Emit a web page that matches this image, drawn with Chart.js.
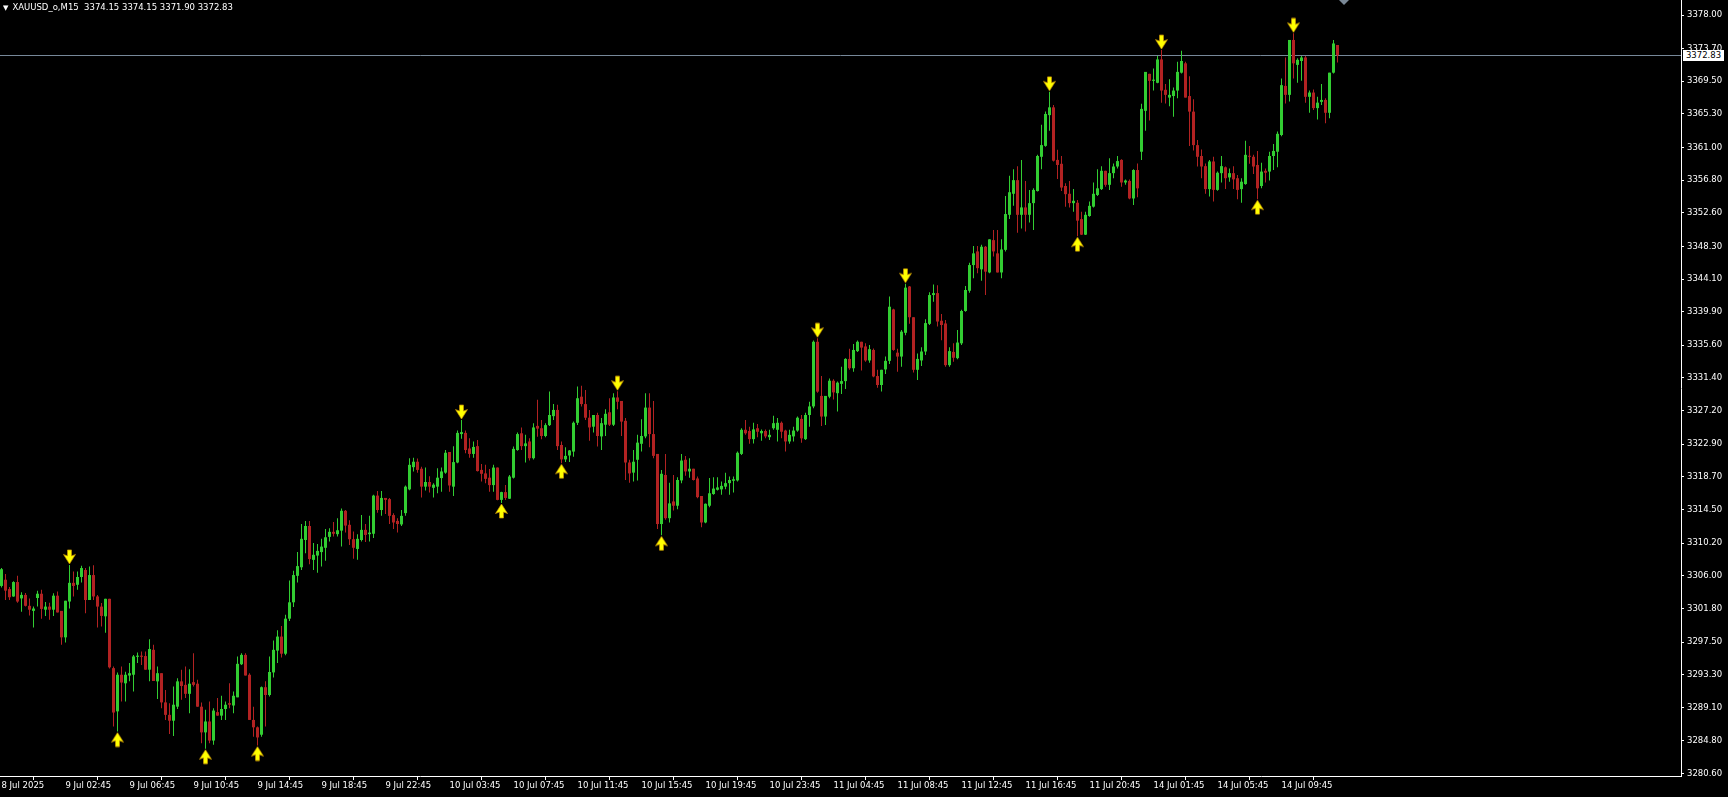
<!DOCTYPE html>
<html>
<head>
<meta charset="utf-8">
<title>XAUUSD_o,M15</title>
<script src="https://cdn.jsdelivr.net/npm/chart.js@4.4.1/dist/chart.umd.min.js"></script>
<style>
  html, body { margin: 0; padding: 0; background: #000; overflow: hidden; }
  #wrap { position: relative; width: 1728px; height: 797px; }
  #header {
    position: absolute; left: 3px; top: 1px; color: #fff; white-space: pre;
    font: 8.5px 'DejaVu Sans', sans-serif; line-height: 12px;
  }
  #header span { font-size: 7px; margin-right: 4px; }
  #priceTag {
    position: absolute; left: 1683px; width: 41px; height: 11px; background: #fff; color: #000;
    font: 8.5px 'DejaVu Sans', sans-serif; line-height: 11px; text-align: center;
  }
</style>
</head>
<body>
<div id="wrap">
  <canvas id="myChart" width="1728" height="797"></canvas>
  <div id="header"><span>▼</span>XAUUSD_o,M15  3374.15 3374.15 3371.90 3372.83</div>
  <div id="priceTag">3372.83</div>
</div>
<script>
const open = [
  3304.7, 3305.5, 3304.3, 3303.35, 3305.2, 3303.1, 3303.55, 3302.15, 3301.5, 3303.15,
  3303.7, 3301.65, 3302.05, 3301.65, 3303.45, 3301.5, 3298.1, 3302.7, 3305.1, 3304.85,
  3305.85, 3306.75, 3302.9, 3306.1, 3303.35, 3302.05, 3300.8, 3303.05, 3294.15, 3288.6,
  3293.3, 3292.2, 3293.2, 3293.3, 3295.6, 3295.75, 3295.7, 3293.95, 3296.5, 3292.45,
  3293.5, 3289.75, 3288.15, 3287.4, 3289.2, 3292.45, 3292.0, 3290.85, 3292.35, 3292.15,
  3289.2, 3285.9, 3287.3, 3284.85, 3288.5, 3288.05, 3288.9, 3289.65, 3289.35, 3290.4,
  3294.65, 3295.85, 3293.3, 3287.5, 3286.55, 3285.6, 3291.7, 3290.7, 3293.6, 3296.4,
  3298.2, 3296.0, 3300.5, 3302.6, 3306.0, 3307.1, 3310.6, 3312.4, 3308.05, 3308.6,
  3309.05, 3309.6, 3311.0, 3311.65, 3311.35, 3311.8, 3314.35, 3312.55, 3310.7, 3309.45,
  3310.6, 3311.9, 3311.35, 3311.4, 3316.3, 3314.45, 3316.0, 3315.85, 3313.8, 3313.05,
  3312.6, 3314.05, 3317.1, 3319.95, 3320.65, 3319.75, 3317.45, 3318.05, 3317.3, 3317.45,
  3318.55, 3319.25, 3321.9, 3317.45, 3320.55, 3324.2, 3324.35, 3322.35, 3321.65, 3322.65,
  3319.6, 3319.15, 3318.6, 3317.65, 3319.9, 3315.75, 3316.75, 3315.9, 3318.6, 3322.15,
  3324.3, 3322.65, 3323.25, 3321.1, 3325.25, 3324.95, 3323.95, 3325.35, 3326.5, 3327.3,
  3322.8, 3320.95, 3321.45, 3321.95, 3325.65, 3329.0, 3328.05, 3326.3, 3325.15, 3326.65,
  3323.9, 3325.4, 3327.0, 3325.4, 3328.9, 3328.45, 3325.9, 3320.55, 3319.25, 3320.9,
  3322.95, 3323.9, 3327.6, 3324.2, 3321.65, 3312.65, 3318.95, 3313.4, 3315.55, 3315.0,
  3318.25, 3320.9, 3319.4, 3319.75, 3318.5, 3316.25, 3312.85, 3315.0, 3316.5, 3317.05,
  3317.1, 3317.45, 3317.9, 3318.2, 3318.25, 3321.65, 3324.75, 3324.6, 3323.55, 3324.95,
  3324.3, 3324.6, 3323.8, 3324.95, 3324.75, 3325.65, 3324.65, 3323.25, 3323.9, 3324.65,
  3326.15, 3323.55, 3326.65, 3327.75, 3336.05, 3329.1, 3326.45, 3329.0, 3331.05, 3329.45,
  3330.65, 3331.0, 3333.85, 3332.65, 3334.85, 3336.05, 3335.45, 3333.65, 3335.0, 3331.65,
  3330.5, 3332.5, 3333.6, 3340.2, 3334.65, 3334.15, 3337.2, 3343.15, 3339.2, 3332.45,
  3333.65, 3334.8, 3338.35, 3342.05, 3342.3, 3338.75, 3338.4, 3333.05, 3334.75, 3333.95,
  3335.85, 3340.0, 3342.6, 3345.9, 3347.65, 3345.35, 3348.25, 3344.95, 3349.1, 3347.4,
  3344.95, 3347.85, 3352.35, 3355.05, 3356.8, 3352.35, 3353.3, 3352.35, 3353.85, 3355.4,
  3359.8, 3361.2, 3365.15, 3366.15, 3359.4, 3358.9, 3356.05, 3355.05, 3353.85, 3353.9,
  3351.8, 3349.8, 3352.2, 3353.4, 3354.9, 3355.65, 3358.0, 3356.2, 3357.7, 3358.55,
  3359.4, 3356.5, 3356.7, 3354.45, 3358.1, 3360.45, 3365.7, 3370.45, 3369.55, 3369.3,
  3372.3, 3368.4, 3367.4, 3367.6, 3368.3, 3370.6, 3371.8, 3367.6, 3365.6, 3361.3,
  3359.9, 3358.6, 3355.65, 3359.2, 3355.55, 3357.7, 3358.45, 3357.15, 3357.7, 3357.05,
  3355.65, 3356.3, 3359.9, 3359.8, 3358.75, 3356.05, 3358.0, 3357.9, 3359.9, 3360.45,
  3362.6, 3368.9, 3367.75, 3374.8, 3371.6, 3372.1, 3372.55, 3367.5, 3368.05, 3366.05,
  3366.85, 3367.1, 3365.45, 3370.6, 3374.15
];
const high = [
  3307.0, 3306.25, 3304.55, 3305.3, 3306.0, 3303.9, 3303.8, 3303.1, 3302.05, 3304.1,
  3304.2, 3302.65, 3302.55, 3303.75, 3304.0, 3301.5, 3302.8, 3307.4, 3306.55, 3306.55,
  3307.3, 3307.0, 3307.2, 3307.35, 3303.55, 3302.5, 3303.05, 3303.05, 3294.35, 3293.6,
  3294.35, 3293.7, 3294.8, 3295.85, 3296.15, 3296.3, 3296.3, 3297.85, 3297.15, 3294.35,
  3293.5, 3291.35, 3289.65, 3291.8, 3292.85, 3293.95, 3294.35, 3294.0, 3296.05, 3292.65,
  3289.75, 3288.8, 3289.85, 3289.0, 3290.3, 3290.6, 3289.85, 3292.2, 3291.15, 3295.65,
  3296.05, 3296.05, 3293.5, 3289.2, 3286.65, 3291.8, 3292.45, 3295.65, 3297.7, 3299.0,
  3299.55, 3301.0, 3305.4, 3306.65, 3309.05, 3312.65, 3313.05, 3313.05, 3310.2, 3310.1,
  3310.75, 3312.0, 3312.1, 3312.9, 3313.4, 3314.65, 3314.45, 3313.15, 3311.7, 3311.35,
  3313.8, 3312.65, 3313.7, 3316.4, 3316.9, 3316.9, 3316.0, 3316.0, 3314.05, 3313.4,
  3314.45, 3317.6, 3321.1, 3321.15, 3321.05, 3320.0, 3319.9, 3318.8, 3317.9, 3319.8,
  3319.9, 3322.15, 3321.9, 3322.65, 3324.65, 3326.0, 3324.65, 3323.65, 3323.25, 3323.45,
  3320.35, 3320.25, 3319.7, 3320.25, 3319.9, 3316.8, 3317.65, 3318.95, 3322.6, 3324.4,
  3325.05, 3324.1, 3323.65, 3325.6, 3328.6, 3326.0, 3325.6, 3329.65, 3328.05, 3327.95,
  3323.25, 3322.5, 3322.15, 3325.8, 3330.3, 3330.4, 3329.85, 3327.3, 3326.65, 3326.95,
  3326.25, 3327.4, 3328.8, 3329.45, 3329.7, 3328.45, 3326.25, 3320.9, 3322.15, 3324.1,
  3326.1, 3329.45, 3329.45, 3328.45, 3321.65, 3319.6, 3321.65, 3317.95, 3318.95, 3318.65,
  3321.65, 3321.4, 3321.1, 3319.75, 3318.75, 3316.25, 3315.3, 3318.55, 3318.65, 3318.65,
  3318.1, 3319.25, 3318.75, 3318.75, 3321.95, 3324.95, 3326.0, 3325.15, 3325.65, 3325.5,
  3324.8, 3324.8, 3324.75, 3326.55, 3326.25, 3325.8, 3324.75, 3324.75, 3325.15, 3326.45,
  3326.65, 3326.95, 3328.35, 3336.2, 3336.5, 3331.65, 3329.1, 3331.35, 3331.25, 3330.95,
  3332.85, 3333.95, 3335.15, 3335.75, 3336.2, 3336.05, 3335.85, 3335.65, 3335.2, 3332.45,
  3332.45, 3334.15, 3341.85, 3340.3, 3335.15, 3337.55, 3343.5, 3343.2, 3339.2, 3334.55,
  3335.35, 3338.95, 3342.4, 3343.4, 3343.3, 3339.6, 3338.85, 3335.35, 3335.85, 3337.55,
  3340.15, 3343.2, 3346.2, 3348.35, 3348.35, 3348.5, 3348.35, 3349.2, 3350.4, 3350.4,
  3349.2, 3354.75, 3357.35, 3358.2, 3358.6, 3359.4, 3356.7, 3355.55, 3355.75, 3360.05,
  3363.9, 3365.6, 3368.15, 3366.45, 3360.7, 3359.9, 3356.4, 3356.7, 3355.65, 3354.25,
  3352.75, 3352.75, 3354.05, 3356.5, 3358.2, 3358.6, 3358.0, 3359.6, 3358.95, 3359.9,
  3359.5, 3356.9, 3356.9, 3358.2, 3358.95, 3366.6, 3370.7, 3370.45, 3371.15, 3372.75,
  3373.5, 3369.15, 3369.75, 3368.7, 3372.0, 3373.4, 3372.0, 3370.15, 3367.2, 3361.95,
  3360.75, 3358.95, 3359.4, 3359.8, 3357.9, 3359.9, 3358.55, 3358.3, 3358.6, 3357.45,
  3357.05, 3361.85, 3361.2, 3360.05, 3360.55, 3359.05, 3358.3, 3360.45, 3361.45, 3363.05,
  3369.85, 3372.55, 3374.8, 3375.65, 3372.45, 3372.75, 3372.75, 3368.3, 3368.45, 3367.5,
  3369.15, 3367.3, 3370.6, 3374.8, 3374.15
];
const low = [
  3304.5, 3302.9, 3302.9, 3303.3, 3302.55, 3301.4, 3302.05, 3300.9, 3299.35, 3302.05,
  3300.5, 3300.85, 3300.35, 3300.85, 3301.3, 3297.15, 3297.45, 3301.8, 3303.35, 3304.2,
  3305.15, 3301.2, 3302.9, 3302.9, 3299.35, 3299.5, 3298.7, 3294.1, 3286.65, 3286.0,
  3289.85, 3289.85, 3292.45, 3291.15, 3294.8, 3294.55, 3293.95, 3292.45, 3292.5, 3290.2,
  3289.0, 3287.5, 3285.7, 3285.45, 3288.9, 3290.1, 3290.3, 3288.35, 3291.8, 3289.2,
  3284.5, 3283.8, 3284.5, 3284.3, 3288.05, 3287.5, 3287.5, 3289.0, 3288.35, 3290.4,
  3294.55, 3293.2, 3287.5, 3285.35, 3284.2, 3285.35, 3286.65, 3290.5, 3292.95, 3294.8,
  3295.5, 3295.8, 3300.2, 3302.0, 3305.15, 3306.75, 3308.9, 3307.5, 3306.75, 3306.4,
  3307.2, 3307.95, 3310.4, 3311.05, 3311.05, 3309.75, 3311.55, 3309.95, 3308.2, 3308.05,
  3310.4, 3310.35, 3310.4, 3310.85, 3314.1, 3313.7, 3313.95, 3312.65, 3312.0, 3311.55,
  3312.4, 3313.7, 3317.0, 3319.4, 3319.25, 3316.05, 3316.95, 3316.7, 3316.05, 3316.6,
  3316.8, 3319.1, 3316.8, 3316.25, 3320.45, 3323.6, 3321.75, 3321.15, 3321.15, 3319.4,
  3318.1, 3317.9, 3316.8, 3316.8, 3315.7, 3315.35, 3315.75, 3315.85, 3318.5, 3322.05,
  3322.15, 3320.55, 3320.8, 3320.95, 3323.85, 3323.55, 3323.8, 3325.25, 3326.0, 3322.15,
  3320.45, 3320.6, 3320.6, 3321.3, 3325.35, 3327.75, 3326.0, 3323.35, 3324.4, 3322.6,
  3322.15, 3323.95, 3325.25, 3325.25, 3327.4, 3323.95, 3318.3, 3317.95, 3318.1, 3318.25,
  3321.95, 3323.65, 3322.5, 3321.1, 3312.0, 3311.2, 3313.2, 3312.85, 3314.4, 3314.55,
  3317.9, 3318.85, 3318.6, 3318.25, 3315.95, 3312.25, 3312.75, 3314.8, 3316.4, 3316.95,
  3316.4, 3317.1, 3316.4, 3316.7, 3318.1, 3321.5, 3324.1, 3322.95, 3323.0, 3323.8,
  3323.35, 3323.65, 3323.45, 3324.75, 3323.25, 3323.65, 3321.95, 3322.95, 3323.25, 3324.5,
  3323.1, 3323.45, 3325.15, 3327.5, 3329.5, 3325.25, 3325.35, 3328.8, 3328.65, 3327.1,
  3329.35, 3330.0, 3332.45, 3332.2, 3334.75, 3332.35, 3333.5, 3333.35, 3331.5, 3330.15,
  3329.65, 3331.9, 3333.2, 3334.9, 3332.2, 3332.85, 3336.9, 3338.35, 3332.1, 3331.15,
  3332.95, 3334.35, 3338.2, 3341.2, 3338.0, 3336.25, 3332.85, 3332.85, 3333.5, 3333.8,
  3335.65, 3339.9, 3342.35, 3344.2, 3344.85, 3343.9, 3342.05, 3344.85, 3347.0, 3344.95,
  3344.2, 3347.65, 3351.8, 3353.5, 3350.05, 3350.6, 3350.2, 3351.35, 3350.4, 3355.35,
  3358.2, 3361.1, 3363.15, 3359.2, 3356.95, 3355.4, 3353.4, 3353.3, 3352.75, 3349.6,
  3349.75, 3349.75, 3352.1, 3353.3, 3354.75, 3355.55, 3355.95, 3355.55, 3357.05, 3358.3,
  3355.95, 3356.2, 3354.35, 3353.6, 3354.6, 3359.4, 3363.15, 3364.45, 3368.3, 3369.25,
  3366.75, 3366.65, 3366.3, 3364.95, 3367.3, 3370.5, 3367.4, 3361.2, 3360.6, 3358.55,
  3357.05, 3355.05, 3354.7, 3354.05, 3355.45, 3356.5, 3355.65, 3356.6, 3355.65, 3354.35,
  3353.9, 3356.2, 3358.9, 3357.6, 3354.35, 3355.75, 3356.5, 3356.75, 3358.1, 3358.45,
  3362.45, 3366.65, 3366.9, 3369.85, 3369.3, 3369.55, 3366.75, 3365.45, 3365.8, 3364.6,
  3366.45, 3364.1, 3364.75, 3370.5, 3371.9
];
const close = [
  3306.85, 3304.1, 3303.25, 3305.2, 3302.7, 3303.55, 3302.15, 3301.65, 3301.8, 3303.7,
  3301.75, 3302.05, 3301.65, 3303.45, 3301.3, 3298.1, 3302.8, 3305.1, 3304.7, 3305.85,
  3307.0, 3302.9, 3306.1, 3303.35, 3302.05, 3300.85, 3303.05, 3294.25, 3288.45, 3293.3,
  3292.3, 3293.3, 3293.5, 3295.65, 3295.75, 3295.6, 3293.95, 3296.6, 3292.5, 3293.5,
  3289.75, 3288.15, 3287.4, 3289.45, 3292.45, 3291.85, 3290.85, 3292.15, 3292.0, 3289.2,
  3285.9, 3287.3, 3284.85, 3288.7, 3288.05, 3288.9, 3289.45, 3289.45, 3290.6, 3294.7,
  3295.85, 3293.2, 3287.5, 3286.55, 3285.25, 3291.7, 3290.7, 3293.65, 3296.5, 3298.2,
  3296.0, 3300.5, 3302.6, 3306.1, 3307.25, 3310.75, 3312.4, 3308.15, 3308.7, 3309.2,
  3309.75, 3310.95, 3311.65, 3311.4, 3311.85, 3314.35, 3312.45, 3310.7, 3309.6, 3310.75,
  3311.9, 3311.25, 3311.55, 3316.3, 3314.45, 3316.0, 3315.75, 3313.7, 3312.85, 3312.65,
  3313.7, 3317.45, 3320.25, 3320.65, 3319.6, 3317.45, 3318.05, 3317.45, 3317.7, 3318.6,
  3319.4, 3321.8, 3317.6, 3320.6, 3324.35, 3324.45, 3322.15, 3321.65, 3322.55, 3319.45,
  3319.1, 3318.45, 3317.65, 3319.9, 3315.75, 3316.75, 3316.0, 3318.75, 3322.3, 3324.2,
  3322.65, 3323.0, 3321.1, 3325.05, 3324.9, 3323.95, 3325.35, 3326.65, 3327.3, 3322.65,
  3320.95, 3321.4, 3322.1, 3325.65, 3328.8, 3328.05, 3326.3, 3325.05, 3326.65, 3323.95,
  3325.6, 3326.8, 3325.4, 3328.9, 3328.35, 3325.8, 3320.55, 3319.15, 3320.65, 3323.1,
  3323.95, 3327.6, 3324.2, 3321.4, 3312.65, 3319.1, 3313.4, 3315.3, 3315.0, 3318.3,
  3320.8, 3319.4, 3319.75, 3318.3, 3316.1, 3312.85, 3315.25, 3316.6, 3317.2, 3317.35,
  3317.55, 3317.9, 3318.3, 3318.4, 3321.8, 3324.75, 3324.3, 3323.55, 3324.8, 3324.5,
  3324.6, 3323.9, 3324.1, 3325.6, 3325.65, 3324.5, 3323.25, 3324.1, 3324.65, 3326.3,
  3323.65, 3326.65, 3327.75, 3336.05, 3329.65, 3326.45, 3329.1, 3331.05, 3329.55, 3330.8,
  3331.0, 3333.85, 3332.65, 3335.0, 3336.05, 3335.3, 3333.65, 3335.1, 3331.6, 3330.5,
  3332.45, 3333.6, 3340.55, 3335.0, 3334.15, 3337.35, 3343.0, 3339.2, 3332.45, 3333.85,
  3334.8, 3338.45, 3342.05, 3342.3, 3338.65, 3338.2, 3333.05, 3334.85, 3334.0, 3335.95,
  3340.0, 3342.7, 3345.9, 3347.4, 3345.5, 3348.25, 3345.05, 3349.2, 3347.65, 3344.95,
  3347.9, 3352.45, 3355.25, 3356.8, 3352.35, 3353.3, 3352.35, 3353.85, 3355.55, 3359.9,
  3361.3, 3365.3, 3366.15, 3359.3, 3358.75, 3355.85, 3355.0, 3353.85, 3354.15, 3351.6,
  3349.8, 3352.35, 3353.5, 3355.05, 3355.75, 3358.0, 3356.2, 3357.7, 3358.55, 3359.25,
  3356.5, 3356.75, 3354.45, 3358.1, 3355.75, 3365.95, 3370.7, 3369.55, 3369.7, 3372.3,
  3368.3, 3367.75, 3367.75, 3368.3, 3370.7, 3372.1, 3367.4, 3365.6, 3361.3, 3359.8,
  3358.55, 3355.65, 3359.2, 3355.55, 3357.75, 3358.6, 3357.05, 3357.7, 3356.9, 3355.55,
  3356.6, 3360.05, 3359.8, 3358.55, 3355.75, 3357.9, 3357.75, 3359.9, 3360.55, 3362.75,
  3369.0, 3367.75, 3374.8, 3371.8, 3372.25, 3372.55, 3367.5, 3368.05, 3366.05, 3366.75,
  3367.1, 3365.45, 3370.6, 3374.35, 3372.83
];

// fractal arrows: bar index + price of the high/low they mark
const upFractalIdx = [29, 51, 64, 125, 140, 165, 269, 314];
const upFractalPrice = [3286.0, 3283.8, 3284.2, 3315.35, 3320.45, 3311.2, 3349.6, 3354.35];
const downFractalIdx = [17, 115, 154, 204, 226, 262, 290, 323];
const downFractalPrice = [3307.4, 3326.0, 3329.7, 3336.5, 3343.5, 3368.15, 3373.5, 3375.65];

const xTickIdx = [0, 16, 32, 48, 64, 80, 96, 112, 128, 144, 160, 176, 192, 208, 224, 240, 256, 272, 288, 304, 320];
const xTickLabels = [
  '8 Jul 2025', '9 Jul 02:45', '9 Jul 06:45', '9 Jul 10:45', '9 Jul 14:45', '9 Jul 18:45',
  '9 Jul 22:45', '10 Jul 03:45', '10 Jul 07:45', '10 Jul 11:45', '10 Jul 15:45', '10 Jul 19:45',
  '10 Jul 23:45', '11 Jul 04:45', '11 Jul 08:45', '11 Jul 12:45', '11 Jul 16:45', '11 Jul 20:45',
  '14 Jul 01:45', '14 Jul 05:45', '14 Jul 09:45'
];
const yTicks = [
  3378.0, 3373.7, 3369.5, 3365.3, 3361.0, 3356.8, 3352.6, 3348.3, 3344.1, 3339.9, 3335.6, 3331.4,
  3327.2, 3322.9, 3318.7, 3314.5, 3310.2, 3306.0, 3301.8, 3297.5, 3293.3, 3289.1, 3284.8, 3280.6
];

const BULL = '#32cd32';
const BEAR = '#b22222';
const FONT = { family: 'DejaVu Sans', size: 8.5 };

const candleColor = (c) => (close[c.dataIndex] >= open[c.dataIndex] ? BULL : BEAR);

function arrowImage(up) {
  const c = document.createElement('canvas');
  c.width = 13;
  c.height = 32;
  const g = c.getContext('2d');
  if (up) {
    g.translate(0, 32);
    g.scale(1, -1);
  }
  g.beginPath();
  g.moveTo(4.5, 1);
  g.lineTo(8.5, 1);
  g.lineTo(8.5, 7);
  g.lineTo(12.5, 5.5);
  g.lineTo(6.5, 15);
  g.lineTo(0.5, 5.5);
  g.lineTo(4.5, 7);
  g.closePath();
  g.fillStyle = '#ffff00';
  g.fill();
  g.lineWidth = 0.7;
  g.strokeStyle = '#c89000';
  g.stroke();
  return c;
}

// MT4 has no label padding round the plot area
const noPadding = (scale) => {
  scale.paddingLeft = 0;
  scale.paddingRight = 0;
  scale.paddingTop = 0;
  scale.paddingBottom = 0;
};

const overlay = {
  id: 'overlay',
  beforeDatasetsDraw(chart) {
    const { ctx, chartArea, scales } = chart;
    const py = Math.round(scales.y.getPixelForValue(close[close.length - 1])) + 0.5;
    ctx.save();
    ctx.strokeStyle = '#778899';
    ctx.lineWidth = 1;
    ctx.beginPath();
    ctx.moveTo(chartArea.left, py);
    ctx.lineTo(chartArea.right, py);
    ctx.stroke();
    ctx.restore();
  },
  afterDraw(chart) {
    const { ctx, scales } = chart;
    const py = Math.round(scales.y.getPixelForValue(close[close.length - 1]));
    document.getElementById('priceTag').style.top = py - 5 + 'px';
    // chart shift marker
    const sx = Math.round(scales.x.getPixelForValue(close.length + 0.5));
    ctx.save();
    ctx.fillStyle = '#7a8896';
    ctx.beginPath();
    ctx.moveTo(sx - 5, 0);
    ctx.lineTo(sx + 5, 0);
    ctx.lineTo(sx, 5);
    ctx.closePath();
    ctx.fill();
    ctx.restore();
  },
};

const ctx = document.getElementById('myChart');

new Chart(ctx, {
  type: 'bar',
  data: {
    datasets: [
      {
        label: 'body',
        data: open.map((o, i) => ({ x: i, y: [o, close[i]] })),
        backgroundColor: candleColor,
        barThickness: 3,
        minBarLength: 1,
        borderWidth: 0,
        inflateAmount: 0,
        order: 1,
      },
      {
        label: 'wick',
        data: low.map((l, i) => ({ x: i, y: [l, high[i]] })),
        backgroundColor: candleColor,
        barThickness: 1,
        borderWidth: 0,
        inflateAmount: 0,
        order: 2,
      },
      {
        type: 'line',
        label: 'up',
        data: upFractalIdx.map((x, i) => ({ x, y: upFractalPrice[i] })),
        showLine: false,
        pointStyle: arrowImage(true),
        pointRadius: 6,
        order: 0,
      },
      {
        type: 'line',
        label: 'down',
        data: downFractalIdx.map((x, i) => ({ x, y: downFractalPrice[i] })),
        showLine: false,
        pointStyle: arrowImage(false),
        pointRadius: 6,
        order: 0,
      },
    ],
  },
  options: {
    responsive: false,
    animation: false,
    events: [],
    grouped: false,
    layout: { padding: 0, autoPadding: false },
    plugins: { legend: { display: false }, tooltip: { enabled: false } },
    scales: {
      x: {
        type: 'linear',
        min: -0.375,
        max: 419.875,
        offset: false,
        grid: { drawOnChartArea: false, drawTicks: true, tickLength: 4, tickColor: '#ffffff' },
        border: { color: '#ffffff', width: 1 },
        ticks: {
          color: '#ffffff',
          font: FONT,
          align: 'start',
          padding: 1,
          autoSkip: false,
          maxRotation: 0,
          minRotation: 0,
          callback: (v, i) => xTickLabels[i],
        },
        afterBuildTicks: (scale) => {
          scale.ticks = xTickIdx.map((v) => ({ value: v }));
        },
        afterFit: (scale) => {
          scale.height = 21;
          noPadding(scale);
        },
      },
      y: {
        position: 'right',
        min: 3280.3,
        max: 3379.93,
        grid: { drawOnChartArea: false, drawTicks: true, tickLength: 3, tickColor: '#ffffff' },
        border: { color: '#ffffff', width: 1 },
        ticks: {
          color: '#ffffff',
          font: FONT,
          padding: 3,
          autoSkip: false,
          callback: (v) => v.toFixed(2),
        },
        afterBuildTicks: (scale) => {
          scale.ticks = yTicks.map((v) => ({ value: v }));
        },
        afterFit: (scale) => {
          scale.width = 47;
          noPadding(scale);
        },
      },
    },
  },
  plugins: [overlay],
});
</script>
</body>
</html>
